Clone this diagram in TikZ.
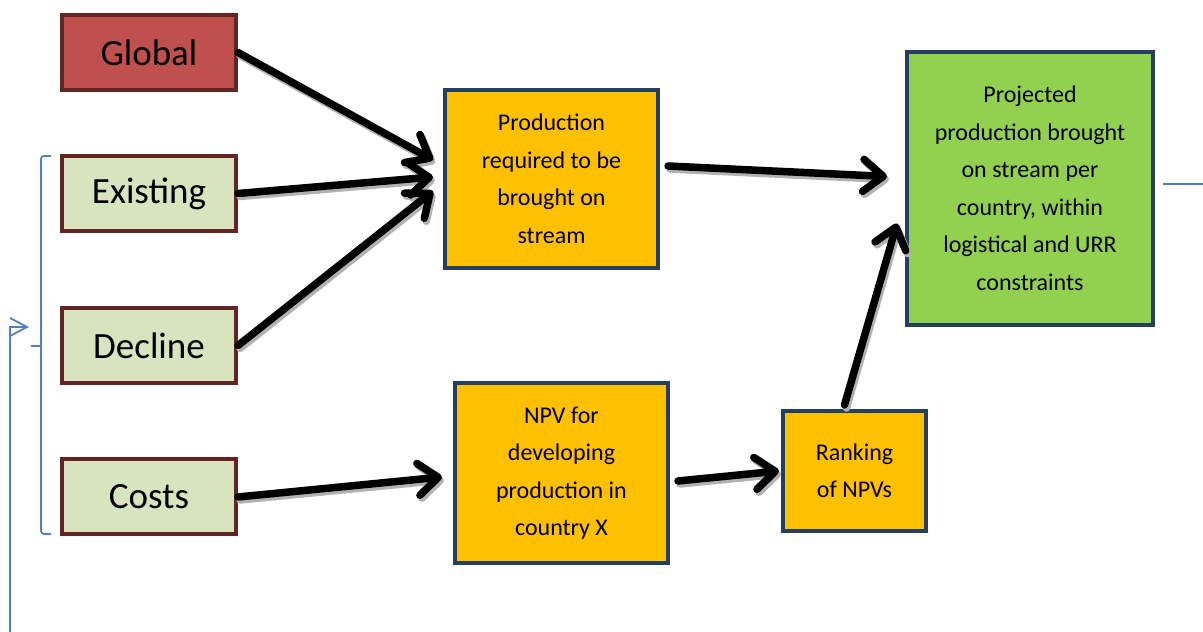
\documentclass[tikz,border=0pt]{standalone}
\usepackage{fontspec}
\setmainfont{Carlito}
\usetikzlibrary{arrows.meta,shadows,positioning}
\definecolor{brick}{HTML}{C0504D}
\definecolor{brickline}{HTML}{632523}
\definecolor{sage}{HTML}{D7E4BD}
\definecolor{amber}{HTML}{FFC000}
\definecolor{leaf}{HTML}{92D050}
\definecolor{navyline}{HTML}{243F60}
\definecolor{linkblue}{HTML}{4F81BD}

\begin{document}
\begin{tikzpicture}[x=1pt,y=1pt]
\tikzstyle{inbox} = [rectangle, draw=brickline, line width=4pt, fill=sage, minimum width=174pt, minimum height=75pt, inner sep=0pt, font=\fontsize{37}{44}\selectfont, drop shadow={shadow xshift=2pt, shadow yshift=-2pt, fill=black!25, opacity=1}];%
\tikzstyle{stepbox} = [rectangle, draw=navyline, line width=4pt, fill=amber, align=center, inner sep=0pt, font=\fontsize{24}{37.5}\selectfont, drop shadow={shadow xshift=2pt, shadow yshift=-2pt, fill=black!25, opacity=1}];%
\tikzstyle{flow} = [line width=7.5pt, line cap=round, -{Straight Barb[round,length=20pt,width=32pt]}];%
\tikzstyle{flowshadow} = [flow, draw=black!30, transform canvas={shift={(2pt,-3pt)}}];%
\tikzstyle{bracket} = [draw=linkblue, line width=1.8pt];%

\useasboundingbox (0,0) rectangle (1203,632);

\node at (149,579.5) [inbox, fill=brick] (global) {Global};
\node at (149,438.5) [inbox] (existing) {Existing};
\node at (149,286.5) [inbox] (decline) {Decline};
\node at (149,135)   [inbox] (costs) {Costs};
\node at (551.5,453) [stepbox, minimum width=213pt, minimum height=178pt] (prodreq) {Production\\required to be\\brought on\\stream};
\node at (561.5,159) [stepbox, minimum width=213pt, minimum height=180pt] (npv) {NPV for\\developing\\production in\\country X};
\node at (854.5,161) [stepbox, minimum width=143pt, minimum height=120pt] (rank) {Ranking\\of NPVs};
\node at (1030,443.5) [stepbox, fill=leaf, minimum width=246pt, minimum height=273pt] (projected) {Projected\\production brought\\on stream per\\country, within\\logistical and URR\\constraints};

% grey shadows first, then the arrows
\foreach \s in {flowshadow,flow} {
\path (global.east)  edge[\s] ([shift={(-10,19)}]prodreq.west) ;
\path (existing.east)  edge[\s] ([shift={(-10,2)}]prodreq.west) ;
\path (decline.east)  edge[\s] ([shift={(-10,-12)}]prodreq.west) ;
\path ([shift={(8,13)}]prodreq.east)  edge[\s] ([shift={(-18,12)}]projected.west) ;
\path (costs.east)  edge[\s] ([shift={(-11,-4)}]npv.west) ;
\path ([shift={(8,-8)}]npv.east)  edge[\s] ([shift={(-2,0)}]rank.west) ;
\path ([shift={(-10,4)}]rank.north)  edge[\s] ([shift={(-8,-35)}]projected.west) ;
}

% bracket round the three inputs and the loop back
\coordinate (bracetop) at (51,476);
\coordinate (bracebot) at (51,98);
\coordinate (bracemid) at (31,286);
\coordinate (loopstart) at (10,0);
\coordinate (loopend) at (29,305);
\coordinate (outstart) at (1163,448);
\coordinate (outend) at (1203,448);
\draw[bracket, rounded corners=3pt] (bracetop) -- ++(-10,0) |- (bracebot);
\draw[bracket] (bracemid) -- ++(10,0);
\draw[bracket, -{Straight Barb[length=17pt,width=18pt]}] (loopstart) |- (loopend);
\draw[bracket] (outstart) -- (outend);

\end{tikzpicture}
\end{document}
